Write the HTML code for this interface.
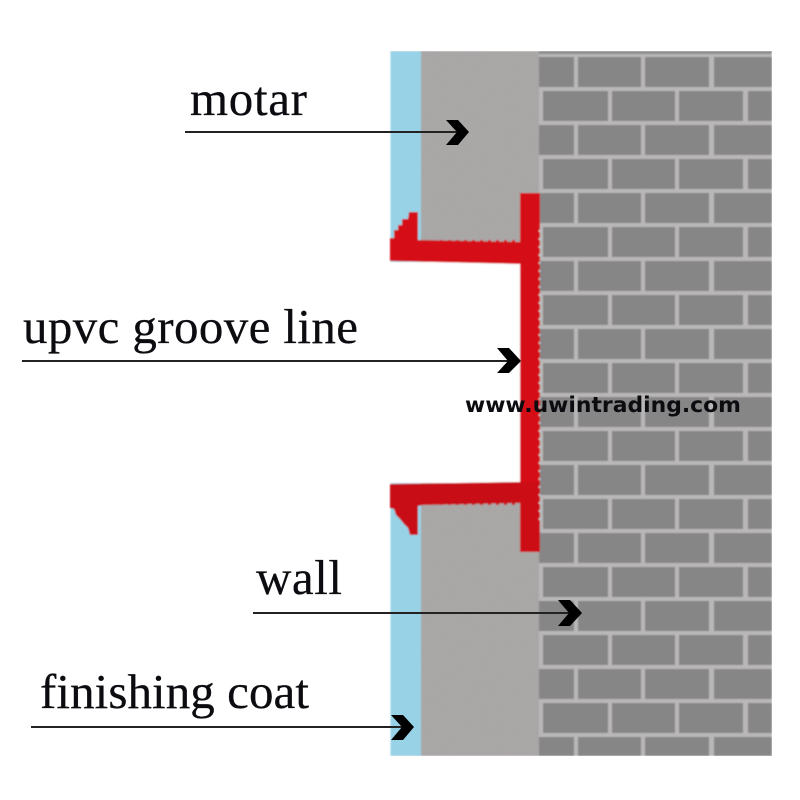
<!DOCTYPE html>
<html>
<head>
<meta charset="utf-8">
<style>
html,body{margin:0;padding:0;background:#fff;width:800px;height:800px;overflow:hidden}
svg{display:block}
text{font-family:"Liberation Serif",serif;fill:#0c0c10;stroke:#0c0c10;stroke-width:0.25px}
</style>
</head>
<body>
<svg width="800" height="800" viewBox="0 0 800 800" xmlns="http://www.w3.org/2000/svg">
<defs>
<filter id="soft" x="0" y="0" width="1" height="1"><feGaussianBlur stdDeviation="0.7"/></filter>
<filter id="grain" x="0" y="0" width="1" height="1">
<feTurbulence type="fractalNoise" baseFrequency="0.7" numOctaves="2" seed="4" result="n"/>
<feColorMatrix in="n" type="matrix" values="0 0 0 0 1  0 0 0 0 1  0 0 0 0 1  0 0 0 1.2 -0.55"/>
</filter>
<pattern id="bricks" patternUnits="userSpaceOnUse" x="500" y="57" width="300" height="68">
<rect width="300" height="68" fill="#b9b7b7"/>
<g fill="#878687">
<rect x="10" y="0" width="64" height="30"/>
<rect x="78" y="0" width="63" height="30"/>
<rect x="145" y="0" width="64" height="30"/>
<rect x="214" y="0" width="64" height="30"/>
<rect x="43" y="34" width="65" height="30"/>
<rect x="112" y="34" width="63" height="30"/>
<rect x="179" y="34" width="64" height="30"/>
<rect x="248" y="34" width="52" height="30"/>
</g>
</pattern>
</defs>
<rect width="800" height="800" fill="#fff"/>
<g filter="url(#soft)">
<rect x="390.5" y="51" width="31" height="705" fill="#98d2e6"/>
<rect x="421" y="51" width="118" height="705" fill="#a8a5a5"/>
<rect x="421" y="51" width="118" height="705" filter="url(#grain)" opacity="0.18"/>
<rect x="539" y="51" width="233" height="705" fill="url(#bricks)"/>
<rect x="539" y="51" width="232" height="3" fill="#8b8a8a"/>
<rect x="389" y="262" width="131" height="221" fill="#fff"/>
<g fill="#d50d14">
<rect x="520" y="193" width="20" height="359"/>
<polygon points="390,238 394,238 394,230 398,230 398,225 402,225 402,219 408,219 409,212 418,212 418,240 520,242 520,264 390,261"/>
</g>
<polygon fill="#c90d14" points="390,484 520,482 540,482 540,502 520,503 423,505 418,506 418,535 410,535 408,528 404,524 400,519 396,515 394,509 390,508"/>
<rect x="520" y="482" width="20" height="70" fill="#cc0d14"/>
<line x1="440" y1="241" x2="518" y2="241" stroke="#d50d14" stroke-width="2" stroke-dasharray="3 5"/>
<line x1="440" y1="504" x2="518" y2="504" stroke="#c90d14" stroke-width="2" stroke-dasharray="3 5"/>
<line x1="539.5" y1="230" x2="539.5" y2="520" stroke="#d6d0d0" stroke-width="1.5" stroke-dasharray="2 6"/>
</g>
<g stroke="#222" stroke-width="1.9">
<line x1="185" y1="132" x2="462" y2="132"/>
<line x1="22" y1="361" x2="515" y2="361"/>
<line x1="253" y1="613" x2="575" y2="613"/>
<line x1="31" y1="727" x2="408" y2="727"/>
</g>
<g fill="#000">
<polygon points="446,120 458,120 469,132 458,145 446,145 457,132"/>
<polygon points="497,348 509,348 521,361 509,373 497,373 508,361"/>
<polygon points="558,600 570,600 582,613 570,626 558,626 569,613"/>
<polygon points="391,715 403,715 414,727 403,740 391,740 402,727"/>
</g>
<g font-size="49">
<text x="190" y="115" textLength="117" lengthAdjust="spacing">motar</text>
<text x="23" y="343" textLength="335" lengthAdjust="spacing">upvc groove line</text>
<text x="256" y="594" textLength="86" lengthAdjust="spacing">wall</text>
<text x="40" y="708" textLength="269" lengthAdjust="spacing">finishing coat</text>
</g>
<text x="465" y="412" font-size="21" font-weight="700" style="font-family:'DejaVu Sans',sans-serif;stroke:none" textLength="276" lengthAdjust="spacingAndGlyphs">www.uwintrading.com</text>
</svg>
</body>
</html>
